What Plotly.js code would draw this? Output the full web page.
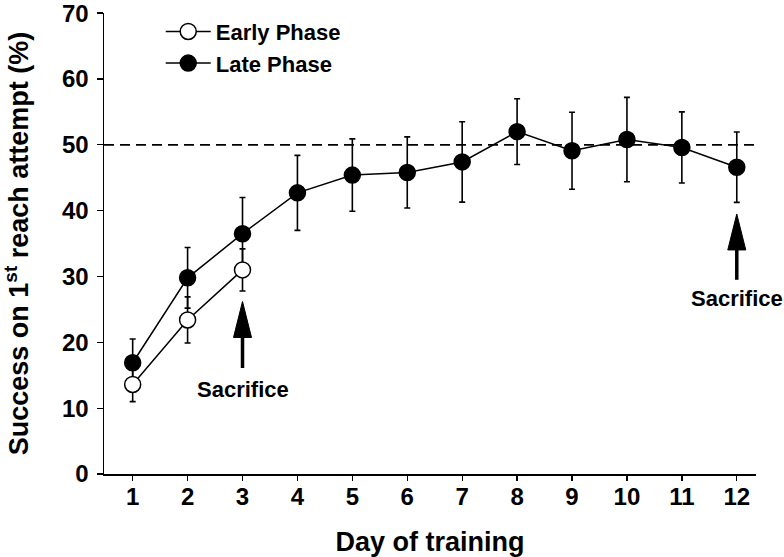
<!DOCTYPE html>
<html><head><meta charset="utf-8">
<script src="https://cdn.plot.ly/plotly-3.0.1.min.js"></script>
<style>html,body{margin:0;padding:0;background:#fff}#chart{width:784px;height:557px}</style>
</head><body><div id="chart"></div>
<script>
const days = [1,2,3,4,5,6,7,8,9,10,11,12];
const earlyDays = [1,2,3];
const earlyMean = [13.6, 23.4, 31.0];
const earlySE = [2.6, 3.5, 3.2];
const lateMean = [16.9, 29.8, 36.5, 42.7, 45.4, 45.8, 47.4, 52.0, 49.1, 50.8, 49.6, 46.6];
const lateSE = [3.6, 4.6, 5.5, 5.7, 5.5, 5.4, 6.1, 5.0, 5.85, 6.4, 5.4, 5.35];
const xTickLabels = days.map(String);
const yTicks = [0,10,20,30,40,50,60,70];
const criterion = 50;
const sacrificeDays = [3, 12];
const sacrificeArrowTop = [26.2, 39.5];
const sacrificeArrowBottom = [16.1, 29.5];
const sacrificeTextY = [12.9, 26.6];

const FONT = 'Liberation Sans, Arial, Helvetica, sans-serif';
const bold = (s) => ({family: FONT, size: s, color: '#000', weight: 'bold'});

const errStyle = {type: 'data', visible: true, color: '#000', thickness: 1.6, width: 3};

const traces = [
  {
    x: days, y: lateMean, name: 'Late Phase', type: 'scatter', mode: 'lines+markers',
    line: {color: '#000', width: 1.5},
    marker: {symbol: 'circle', size: 16, color: '#000', line: {color: '#000', width: 1.5}},
    error_y: Object.assign({array: lateSE}, errStyle),
    legendrank: 2, cliponaxis: false
  },
  {
    x: earlyDays, y: earlyMean, name: 'Early Phase', type: 'scatter', mode: 'lines+markers',
    line: {color: '#000', width: 1.5},
    marker: {symbol: 'circle', size: 16, color: '#fff', line: {color: '#000', width: 1.5}},
    error_y: Object.assign({array: earlySE}, errStyle),
    legendrank: 1, cliponaxis: false
  }
];

const shapes = [
  {type: 'line', xref: 'paper', x0: 0, x1: 1, yref: 'y', y0: criterion, y1: criterion,
   line: {color: '#000', width: 1.8, dash: '10px,6px'}, layer: 'below'}
];
const annotations = [];
sacrificeDays.forEach((d, i) => {
  shapes.push({type: 'line', xref: 'x', yref: 'y', x0: d, x1: d,
    y0: sacrificeArrowBottom[i], y1: sacrificeArrowTop[i] - 3,
    line: {color: '#000', width: 3.5}});
  shapes.push({type: 'path', xref: 'x', yref: 'y', xsizemode: 'pixel', ysizemode: 'pixel',
    xanchor: d, yanchor: sacrificeArrowTop[i],
    path: 'M-9,-36 L9,-36 L0,0 Z', fillcolor: '#000', line: {color: '#000', width: 1}});
  annotations.push({x: d, y: sacrificeTextY[i], xref: 'x', yref: 'y', text: 'Sacrifice',
    showarrow: false, font: bold(22), xanchor: 'center', yanchor: 'middle'});
});

const layout = {
  width: 784, height: 557,
  margin: {l: 104, r: 28, t: 11, b: 83, pad: 0},
  paper_bgcolor: '#fff', plot_bgcolor: '#fff',
  showlegend: true,
  legend: {x: 0.087, y: 1.005, xanchor: 'left', yanchor: 'top', font: bold(22),
    bgcolor: 'rgba(0,0,0,0)', borderwidth: 0, itemwidth: 45, tracegroupgap: 0},
  xaxis: {
    range: [0.478, 12.35], tickmode: 'array', tickvals: days, ticktext: xTickLabels,
    showgrid: false, zeroline: false, showline: true, linecolor: '#000', linewidth: 1.5,
    ticks: 'outside', ticklen: 5, tickwidth: 1.3, tickcolor: '#000',
    tickfont: bold(24), ticklabelstandoff: -4, ticklabeloverflow: 'allow',
    title: {text: 'Day of training', font: bold(27), standoff: 24}
  },
  yaxis: {
    range: [0, 70.02], tickmode: 'array', tickvals: yTicks,
    showgrid: false, zeroline: false, showline: true, linecolor: '#000', linewidth: 1.5,
    ticks: 'outside', ticklen: 6, tickwidth: 1.3, tickcolor: '#000',
    tickfont: bold(24), ticklabelstandoff: 3, ticklabeloverflow: 'allow',
    title: {text: 'Success on 1<sup>st</sup> reach attempt (%)', font: bold(27), standoff: 28}
  },
  shapes: shapes,
  annotations: annotations
};

Plotly.newPlot('chart', traces, layout, {displayModeBar: false, staticPlot: true});
</script>
</body></html>
